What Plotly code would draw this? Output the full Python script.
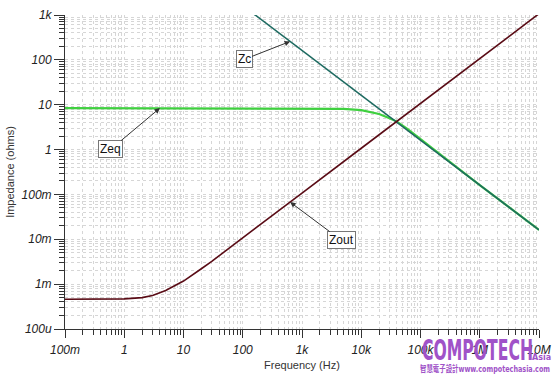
import numpy as np
import plotly.graph_objects as go

# ---- data ----
freq_zout = [0.1, 0.3, 1, 2, 3, 5, 10, 20, 30, 50, 100, 1e3, 1e4, 1e5, 1e6, 1e7]
zout = [4.6e-4, 4.6e-4, 4.7e-4, 5.0e-4, 5.6e-4, 7.2e-4, 1.17e-3, 2.2e-3, 3.2e-3,
        5.4e-3, 1.07e-2, 0.107, 1.07, 10.7, 107, 1070]

freq_zc = [100, 1e3, 1e4, 1e5, 1e6, 1e7]
zc = [1620, 162, 16.2, 1.62, 0.162, 0.0162]

freq_zeq = [0.1, 1, 10, 100, 1e3, 3e3, 5e3, 1e4, 1.5e4, 2e4, 3e4, 4e4, 6e4, 1e5,
            2e5, 5e5, 1e6, 1e7]
zeq = [8.4, 8.4, 8.4, 8.4, 8.35, 8.25, 8.1, 7.6, 6.9, 6.2, 5.0, 4.2, 2.9, 1.72,
       0.83, 0.325, 0.162, 0.0162]

x_tickvals = [0.1, 1, 10, 100, 1e3, 1e4, 1e5, 1e6, 1e7]
x_ticktext = ["100m", "1", "10", "100", "1k", "10k", "100k", "1M", "10M"]
y_tickvals = [1e-4, 1e-3, 1e-2, 1e-1, 1, 10, 100, 1000]
y_ticktext = ["100u", "1m", "10m", "100m", "1", "10", "100", "1k"]

# annotation labels and the frequency each arrow points at
ann_labels = ["Zeq", "Zc", "Zout"]
ann_freq = [4.0, 630, 630]
ann_offsets = [(-49, 41), (-46, 18), (51, 38)]

series = {
    "Zeq": (freq_zeq, zeq, "#3fd03f", 2.2),
    "Zc": (freq_zc, zc, "#1d6a60", 1.6),
    "Zout": (freq_zout, zout, "#5a0c16", 1.6),
}

fig = go.Figure()
for name in ["Zeq", "Zc", "Zout"]:
    f, z, col, w = series[name]
    fig.add_trace(go.Scatter(x=f, y=z, mode="lines", name=name,
                             line=dict(color=col, width=w), showlegend=False))


def interp_log(f0, f, z):
    return float(np.interp(np.log10(f0), np.log10(f), np.log10(z)))


for lab, f0, (ax, ay) in zip(ann_labels, ann_freq, ann_offsets):
    f, z, _, _ = series[lab]
    fig.add_annotation(
        x=np.log10(f0), y=interp_log(f0, f, z), xref="x", yref="y",
        text=lab, showarrow=True, ax=ax, ay=ay,
        arrowhead=2, arrowsize=1.1, arrowwidth=1, arrowcolor="#333333",
        bordercolor="#777777", borderwidth=1, borderpad=1, bgcolor="white",
        font=dict(family="Liberation Sans, Arial", size=12, color="#111111"),
    )

grid_col = "#d6d6d6"
axis_common = dict(
    type="log", showline=True, linecolor="#333333", linewidth=1,
    ticks="outside", tickcolor="#333333", tickwidth=1,
    showgrid=True, gridcolor=grid_col, griddash="dot", gridwidth=1,
    zeroline=False, mirror=False, automargin=False,
    tickfont=dict(family="Liberation Sans, Arial", size=12, color="#222222",
                  style="italic"),
    minor=dict(ticks="outside", ticklen=5, tickcolor="#333333", dtick="D1",
               showgrid=True, gridcolor=grid_col, griddash="dot", gridwidth=1),
)

fig.update_xaxes(**axis_common, range=[-1, 7], tickvals=x_tickvals,
                 ticktext=x_ticktext, ticklen=8, ticklabelstandoff=2,
                 title=dict(text="Frequency (Hz)", standoff=4,
                            font=dict(family="Liberation Sans, Arial", size=11,
                                      color="#333333")))
fig.update_yaxes(**axis_common, range=[-4, 3], tickvals=y_tickvals,
                 ticktext=y_ticktext, ticklen=10,
                 title=dict(text="Impedance (ohms)", standoff=4,
                            font=dict(family="Liberation Sans, Arial", size=11,
                                      color="#333333")))

# watermark
wm_col = "#a052c8"
fig.add_annotation(text="COMPOTECH", xref="paper", yref="paper",
                   x=0.745, y=-0.067, xanchor="left", yanchor="middle",
                   showarrow=False, borderpad=0,
                   font=dict(family="DejaVu Sans", size=28, weight=700,
                             color=wm_col))
fig.add_annotation(text="Asia", xref="paper", yref="paper",
                   x=1.006, y=-0.092, xanchor="center", yanchor="middle",
                   showarrow=False, borderpad=0,
                   font=dict(family="DejaVu Sans", size=8, weight=700,
                             color=wm_col))
fig.add_annotation(text="智慧電子設計www.compotechasia.com", xref="paper", yref="paper",
                   x=0.745, y=-0.127, xanchor="left", yanchor="middle",
                   showarrow=False, borderpad=0,
                   font=dict(family="DejaVu Sans, Noto Sans CJK TC", size=9, weight=700,
                             color=wm_col))

fig.update_layout(
    width=560, height=380,
    margin=dict(l=65, r=21, t=15, b=51, autoexpand=False),
    paper_bgcolor="white", plot_bgcolor="white",
)

post = """
document.body.style.margin = '0';
function place(t, len, left) {
  t.setAttribute('textLength', String(len));
  t.setAttribute('lengthAdjust', 'spacingAndGlyphs');
  var r = t.getBoundingClientRect();
  var x0 = parseFloat(t.getAttribute('x') || '0');
  t.setAttribute('x', String(x0 + (left - r.left)));
}
document.querySelectorAll('.annotation-text').forEach(function (t) {
  var s = t.textContent;
  if (s === 'COMPOTECH') {
    place(t, 111, 422);
  } else if (s.indexOf('www.compotechasia.com') >= 0) {
    place(t, 130, 420);
  }
});
"""

fig.write_html("out.html", post_script=post, config={"displayModeBar": False})
